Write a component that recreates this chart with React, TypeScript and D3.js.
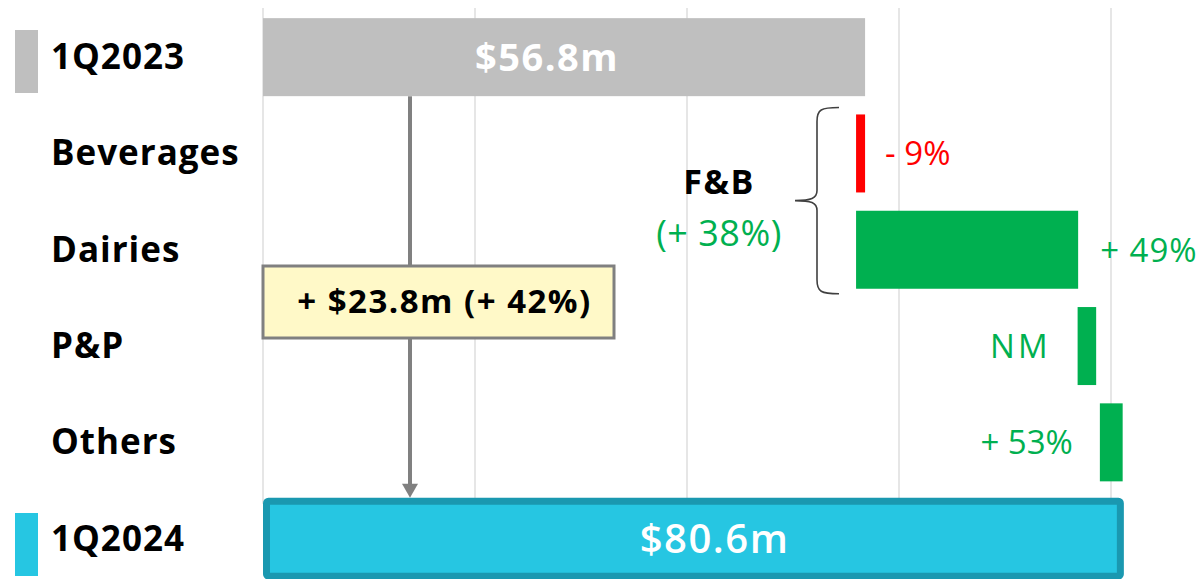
import React from "react";
import * as d3 from "d3";

const categories = ["1Q2023", "Beverages", "Dairies", "P&P", "Others", "1Q2024"];
const barStart = [0, 56.8, 55.95, 76.85, 78.95, 0];
const barEnd = [56.8, 55.95, 76.9, 78.6, 81.1, 80.6];
const barKind = ["total", "neg", "pos", "pos", "pos", "final"];
const pctLabels = ["", "- 9%", "+ 49%", "NM", "+ 53%", ""];
const totalLabels = ["$56.8m", "", "", "", "", "$80.6m"];
const gridTicks = [0, 20, 40, 60, 80];
const changeLabel = "+ $23.8m (+ 42%)";
const groupLabel = "F&B";
const groupPct = "(+ 38%)";

const W = 1201;
const H = 579;
const FONT = "'Open Sans', Lato, sans-serif";
const GREY = "#BFBFBF";
const RED = "#FF0000";
const GREEN = "#00B050";
const CYAN = "#26C6E2";
const CYAN_DARK = "#1A98B0";

export default function App() {
  const x = d3.scaleLinear().domain([0, 80]).range([263, 1111]);
  const y = d3
    .scaleBand<string>()
    .domain(categories)
    .range([9, 9 + 6 * 96.3])
    .paddingInner(0.19)
    .paddingOuter(0.095);
  const bh = y.bandwidth();
  const cy = (c: string) => (y(c) as number) + bh / 2;

  const colorOf = (k: string) =>
    k === "total" ? GREY : k === "neg" ? RED : k === "pos" ? GREEN : CYAN;

  // brace
  const bTop = (y("Beverages") as number) - 7;
  const bBot = (y("Dairies") as number) + bh + 5;
  const bMid = (bTop + bBot) / 2;
  const bx = 817;
  const brace = `M ${bx + 22} ${bTop} C ${bx + 4} ${bTop}, ${bx} ${bTop + 2}, ${bx} ${bTop + 14}
    L ${bx} ${bMid - 10} C ${bx} ${bMid - 2}, ${bx - 6} ${bMid}, ${bx - 22} ${bMid}
    C ${bx - 6} ${bMid}, ${bx} ${bMid + 2}, ${bx} ${bMid + 10}
    L ${bx} ${bBot - 14} C ${bx} ${bBot - 2}, ${bx + 4} ${bBot}, ${bx + 22} ${bBot}`;

  const arrowX = 410;
  const arrowTop = (y("1Q2023") as number) + bh;
  const arrowBot = (y("1Q2024") as number) - 2;

  const boxX = x(0);
  const boxW = 351;
  const boxY = 266;
  const boxH = 72;

  return (
    <svg
      width={W}
      height={H}
      style={{ position: "absolute", left: 0, top: 0, background: "#fff" }}
      fontFamily={FONT}
    >
      {/* grid */}
      {gridTicks.map((t) => (
        <line
          key={t}
          x1={x(t)}
          x2={x(t)}
          y1={8}
          y2={(y("1Q2024") as number) + 4}
          stroke="#E6E6E6"
          strokeWidth={2}
        />
      ))}

      {/* arrow */}
      <line x1={arrowX} x2={arrowX} y1={arrowTop} y2={arrowBot - 12} stroke="#808080" strokeWidth={4} />
      <path
        d={`M ${arrowX - 8} ${arrowBot - 14} L ${arrowX + 8} ${arrowBot - 14} L ${arrowX} ${arrowBot} Z`}
        fill="#808080"
      />

      {/* bars */}
      {categories.map((c, i) => {
        const x0 = x(Math.min(barStart[i], barEnd[i]));
        const x1 = x(Math.max(barStart[i], barEnd[i]));
        const top = y(c) as number;
        if (barKind[i] === "final") {
          const sw = 7;
          return (
            <rect
              key={c}
              x={x0 + sw / 2}
              y={top + sw / 2 - 2}
              width={x1 - x0 - sw / 2 + 3}
              height={bh - sw + 4}
              fill={CYAN}
              stroke={CYAN_DARK}
              strokeWidth={sw}
              rx={2}
            />
          );
        }
        return <rect key={c} x={x0} y={top} width={x1 - x0} height={bh} fill={colorOf(barKind[i])} />;
      })}

      {/* total labels */}
      <text x={x(26.8)} y={cy("1Q2023") + 14} textAnchor="middle" fill="#fff" fontWeight={700} fontSize={38} letterSpacing={1.5}>
        {totalLabels[0]}
      </text>
      <text x={x(42.6)} y={cy("1Q2024") + 14} textAnchor="middle" fill="#fff" fontWeight={600} fontSize={40} letterSpacing={1.5}>
        {totalLabels[5]}
      </text>

      {/* percentage labels */}
      <text x={x(barStart[1]) + 20} y={cy("Beverages") + 12} fill={RED} fontSize={33}>
        {pctLabels[1]}
      </text>
      <text x={x(barEnd[2]) + 22} y={cy("Dairies") + 12} fill={GREEN} fontSize={33} letterSpacing={1}>
        {pctLabels[2]}
      </text>
      <text x={x(barStart[3]) - 27} y={cy("P&P") + 12} textAnchor="end" fill={GREEN} fontSize={33} letterSpacing={3}>
        {pctLabels[3]}
      </text>
      <text x={x(barStart[4]) - 27} y={cy("Others") + 12} textAnchor="end" fill={GREEN} fontSize={33}>
        {pctLabels[4]}
      </text>

      {/* brace and group label */}
      <path d={brace} fill="none" stroke="#404040" strokeWidth={1.6} />
      <text x={719} y={194} textAnchor="middle" fill="#000" fontWeight={700} fontSize={34} letterSpacing={1.5}>
        {groupLabel}
      </text>
      <text x={719} y={246} textAnchor="middle" fill={GREEN} fontSize={36} letterSpacing={0.5}>
        {groupPct}
      </text>

      {/* change box */}
      <rect x={boxX} y={boxY} width={boxW} height={boxH} fill="#FFF9C8" stroke="#808080" strokeWidth={3} />
      <text x={boxX + boxW / 2 + 6} y={boxY + boxH / 2 + 11} textAnchor="middle" fill="#000" fontWeight={700} fontSize={33} letterSpacing={1.5}>
        {changeLabel}
      </text>

      {/* category labels */}
      {categories.map((c) => (
        <text key={c} x={51} y={cy(c) + 12} fill="#000" fontWeight={700} fontSize={35} letterSpacing={1}>
          {c}
        </text>
      ))}
      {/* legend swatches */}
      <rect x={15} y={30} width={23} height={63} fill={GREY} />
      <rect x={15} y={513} width={23} height={63} fill={CYAN} />
    </svg>
  );
}
